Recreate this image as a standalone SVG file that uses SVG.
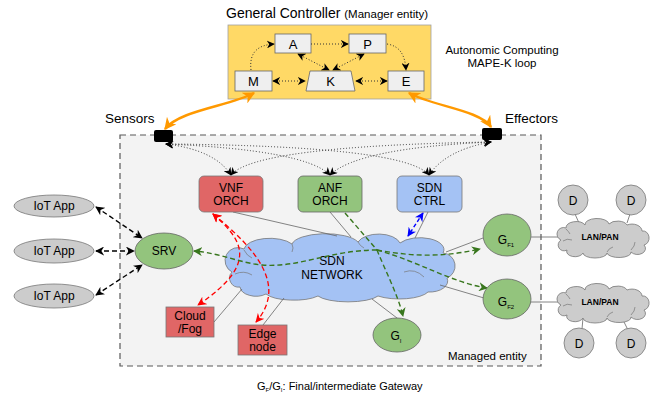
<svg xmlns="http://www.w3.org/2000/svg" width="655" height="399" viewBox="0 0 655 399">
  <style>
    text { font-family: "Liberation Sans", Arial, sans-serif; fill: #000; }
    .lbl { font-size: 12px; text-anchor: middle; }
    .mk { font-size: 13px; text-anchor: middle; }
    .side { font-size: 13.5px; }
    .note { font-size: 11.5px; }
    .gbox { fill: #efefef; stroke: #666; stroke-width: 0.8; }
    .red { fill: #e06666; stroke: #777; stroke-width: 0.8; }
    .grn { fill: #93c47d; stroke: #666; stroke-width: 0.8; }
    .blu { fill: #a4c2f4; stroke: #777; stroke-width: 0.8; }
    .gry { fill: #cccccc; stroke: #777; stroke-width: 0.8; }
    .link { fill: none; stroke: #666; stroke-width: 0.8; }
    .dot { fill: none; stroke: #333; stroke-width: 1; stroke-dasharray: 1 2; marker-start: url(#ak); marker-end: url(#ak); }
    .dotk { fill: none; stroke: #333; stroke-width: 1; stroke-dasharray: 1 2; }
    .org { fill: none; stroke: #ff9900; stroke-width: 2.5; marker-start: url(#ao); marker-end: url(#ao); }
    .blk { fill: none; stroke: #000; stroke-width: 1.4; stroke-dasharray: 5 3; marker-start: url(#ab); marker-end: url(#ab); }
    .rd { fill: none; stroke: #ff0000; stroke-width: 1.3; stroke-dasharray: 5 3; }
    .gd { fill: none; stroke: #38761d; stroke-width: 1.4; stroke-dasharray: 5 3; }
    .bd { fill: none; stroke: #0000ff; stroke-width: 1.4; stroke-dasharray: 4 2.5; marker-start: url(#abl); marker-end: url(#abl); }
  </style>
  <defs>
    <marker id="ak" viewBox="0 0 10 10" refX="9" refY="5" markerUnits="userSpaceOnUse" markerWidth="8" markerHeight="8" orient="auto-start-reverse">
      <path d="M0,0 L10,5 L0,10 L3,5 Z" fill="#000"/>
    </marker>
    <marker id="ab" viewBox="0 0 10 10" refX="9" refY="5" markerUnits="userSpaceOnUse" markerWidth="9" markerHeight="9" orient="auto-start-reverse">
      <path d="M0,0 L10,5 L0,10 L3,5 Z" fill="#000"/>
    </marker>
    <marker id="ao" viewBox="0 0 10 10" refX="9" refY="5" markerUnits="userSpaceOnUse" markerWidth="12" markerHeight="12" orient="auto-start-reverse">
      <path d="M0,0 L10,5 L0,10 L3,5 Z" fill="#ff9900"/>
    </marker>
    <marker id="ar" viewBox="0 0 10 10" refX="9" refY="5" markerUnits="userSpaceOnUse" markerWidth="9" markerHeight="9" orient="auto-start-reverse">
      <path d="M0,0 L10,5 L0,10 L3,5 Z" fill="#ff0000"/>
    </marker>
    <marker id="ag" viewBox="0 0 10 10" refX="9" refY="5" markerUnits="userSpaceOnUse" markerWidth="9" markerHeight="9" orient="auto-start-reverse">
      <path d="M0,0 L10,5 L0,10 L3,5 Z" fill="#38761d"/>
    </marker>
    <marker id="abl" viewBox="0 0 10 10" refX="9" refY="5" markerUnits="userSpaceOnUse" markerWidth="9" markerHeight="9" orient="auto-start-reverse">
      <path d="M0,0 L10,5 L0,10 L3,5 Z" fill="#0000ff"/>
    </marker>
    <!-- small LAN/PAN cloud, local box about 0..90 x 0..35 -->
    <g id="lancloud">
      <path class="gry" d="M4,20 A6,6 0 0 1 9,8 A10,6 0 0 1 28,5 A12,6 0 0 1 52,4 A10,6 0 0 1 70,5 A10,7 0 0 1 85,11 A6,7 0 0 1 87,25 A8,6 0 0 1 74,32 A12,5 0 0 1 50,33 A12,5 0 0 1 26,33 A8,5 0 0 1 10,30 A5,5 0 0 1 4,20 Z"/>
      <path fill="none" stroke="#777" stroke-width="0.7" d="M6,21 Q10,18 15,20 M9,9 Q12,12 13,14 M74,30 Q78,26 78,22 M50,32 Q52,28 56,27"/>
    </g>
  </defs>

  <!-- managed entity frame -->
  <g id="managed-entity">
    <rect x="120" y="135" width="421" height="231" fill="#f3f3f3" stroke="#595959" stroke-width="1.2" stroke-dasharray="6 4"/>
    <text class="note" x="448" y="360">Managed entity</text>
  </g>

  <!-- manager entity with MAPE-K loop -->
  <g id="general-controller">
    <text x="226" y="18" style="font-size:14px">General Controller <tspan style="font-size:11.5px">(Manager entity)</tspan></text>
    <rect x="228" y="25" width="203" height="74" fill="#ffd966" stroke="#a0a0a0" stroke-width="0.8"/>
  </g>
  <g id="mape-a"><rect class="gbox" x="275" y="34" width="36" height="19"/><text class="mk" x="293" y="48.5">A</text></g>
  <g id="mape-p"><rect class="gbox" x="349" y="34" width="37" height="19"/><text class="mk" x="367.5" y="48.5">P</text></g>
  <g id="mape-m"><rect class="gbox" x="235" y="71" width="37" height="20"/><text class="mk" x="253.5" y="86">M</text></g>
  <g id="mape-k"><path class="gbox" d="M310,71 L351,71 L355,91 L306,91 Z"/><text class="mk" x="330.5" y="86">K</text></g>
  <g id="mape-e"><rect class="gbox" x="388" y="71" width="36" height="20"/><text class="mk" x="406" y="86">E</text></g>
  <g id="mape-caption">
    <text class="note" x="502" y="54" text-anchor="middle">Autonomic Computing</text>
    <text class="note" x="502" y="67" text-anchor="middle">MAPE-K loop</text>
  </g>

  <!-- sensors / effectors -->
  <g id="sensors">
    <text class="side" x="105" y="123">Sensors</text>
    <rect x="154" y="130" width="19" height="12" rx="2" fill="#000"/>
  </g>
  <g id="effectors">
    <text class="side" x="505" y="123">Effectors</text>
    <rect x="482" y="128" width="20" height="12" rx="2" fill="#000"/>
  </g>

  <!-- SDN network cloud (drawn under the flow arrows that cross it) -->
  <g id="sdn-network">
    <path class="blu" d="M232,272 A12,12 0 0 1 244,249 A26,12 0 0 1 292,244 A34,12 0 0 1 358,242 A22,12 0 0 1 400,243 A24,12 0 0 1 443,253 A13,13 0 0 1 447,278 A18,11 0 0 1 428,292 A30,10 0 0 1 378,296 A32,9 0 0 1 318,296 A30,10 0 0 1 266,294 A16,10 0 0 1 240,287 A9,9 0 0 1 232,272 Z"/>
    <path fill="none" stroke="#777" stroke-width="0.7" d="M235,274 Q244,270 252,275 M404,272 Q415,268 424,277 M244,250 Q247,256 252,258 M292,244 Q294,248 292,252 M358,242 Q360,246 364,248"/>
    <text class="lbl" x="332" y="265">SDN</text>
    <text class="lbl" x="332" y="279">NETWORK</text>
  </g>

  <!-- connectors -->
  <g id="connectors">
    <!-- MAPE-K loop -->
    <path class="dotk" marker-end="url(#ak)" d="M311,44 L348,44"/>
    <path class="dotk" marker-end="url(#ak)" d="M251,70 C249,52 258,45 274,44"/>
    <path class="dotk" marker-end="url(#ak)" d="M387,44 C400,46 405,55 406,70"/>
    <path class="dot" d="M273,81 L305,81"/>
    <path class="dot" d="M356,81 L387,81"/>
    <path class="dot" d="M298,54 L329,70"/>
    <path class="dot" d="M364,54 L333,70"/>

    <!-- manager to sensors / effectors -->
    <path class="org" d="M254,93 C230,106 180,110 165,129"/>
    <path class="org" d="M409,93 C432,106 480,110 491,127"/>

    <!-- sensors / effectors to control functions -->
    <path class="dot" d="M166,144 Q215,150 231,175"/>
    <path class="dot" d="M166,144 Q305,150 330,175"/>
    <path class="dot" d="M166,144 Q405,146 429,175"/>
    <path class="dot" d="M491,142 Q255,146 231,175"/>
    <path class="dot" d="M491,142 Q358,148 330,175"/>
    <path class="dot" d="M491,142 Q446,150 429,175"/>

    <!-- plain links, each ending at the outline of the node it touches -->
    <path class="link" d="M233,212 L337,236"/>
    <path class="link" d="M330,212 L351,237"/>
    <path class="link" d="M428,212 L415,238"/>
    <path class="link" d="M446,252 L483,238"/>
    <path class="link" d="M440,285 L484,298"/>
    <path class="link" d="M372,299 L397,318"/>
    <path class="link" d="M242,289 L214,322"/>
    <path class="link" d="M284,298 L263,325"/>
    <path class="link" d="M531,237 L558,237"/>
    <path class="link" d="M530,302 L558,302"/>
    <path class="link" d="M575,214 L579,223"/>
    <path class="link" d="M630,214 L627,223"/>
    <path class="link" d="M582,329 L583,318"/>
    <path class="link" d="M628,330 L622,318"/>

    <!-- IoT apps to SRV -->
    <path class="blk" d="M96,207 L142,238"/>
    <path class="blk" d="M96,251 L134,251"/>
    <path class="blk" d="M96,295 L142,265"/>

    <!-- VNF orchestration -->
    <path class="rd" marker-start="url(#ar)" marker-end="url(#ar)" d="M213,214 C240,238 262,262 198,305"/>
    <path class="rd" marker-start="url(#ar)" marker-end="url(#ar)" d="M213,214 C255,248 288,285 256,322"/>

    <!-- ANF orchestration -->
    <path class="gd" d="M345,213 L377,250"/>
    <path class="gd" marker-end="url(#ag)" d="M377,250 C385,270 398,295 403,316"/>
    <path class="gd" marker-end="url(#ag)" d="M377,250 C330,250 300,268 262,265 C240,263 220,253 194,251"/>
    <path class="gd" marker-end="url(#ag)" d="M377,250 C410,256 440,258 480,249"/>
    <path class="gd" marker-end="url(#ag)" d="M377,250 C420,262 450,282 487,288"/>

    <!-- SDN control -->
    <path class="bd" d="M423,213 L408,236"/>
  </g>

  <!-- control functions -->
  <g id="vnf-orch">
    <rect class="red" x="199" y="176" width="64" height="36" rx="5"/>
    <text class="lbl" x="231" y="192">VNF</text>
    <text class="lbl" x="231" y="205">ORCH</text>
  </g>
  <g id="anf-orch">
    <rect class="grn" x="298" y="176" width="64" height="36" rx="5"/>
    <text class="lbl" x="330" y="192">ANF</text>
    <text class="lbl" x="330" y="205">ORCH</text>
  </g>
  <g id="sdn-ctrl">
    <rect class="blu" x="397" y="176" width="65" height="36" rx="5"/>
    <text class="lbl" x="429.5" y="192">SDN</text>
    <text class="lbl" x="429.5" y="205">CTRL</text>
  </g>

  <!-- IoT applications and service -->
  <g id="iot-app-1"><ellipse class="gry" cx="54" cy="206" rx="40" ry="11"/><text class="lbl" x="54" y="210">IoT App</text></g>
  <g id="iot-app-2"><ellipse class="gry" cx="54" cy="251" rx="40" ry="12"/><text class="lbl" x="54" y="255">IoT App</text></g>
  <g id="iot-app-3"><ellipse class="gry" cx="54" cy="296" rx="40" ry="12"/><text class="lbl" x="54" y="300">IoT App</text></g>
  <g id="srv"><ellipse class="grn" cx="164" cy="251" rx="29" ry="18"/><text class="lbl" x="164" y="255">SRV</text></g>

  <!-- compute resources -->
  <g id="cloud-fog">
    <rect class="red" x="166" y="307" width="48" height="30"/>
    <text class="lbl" x="190" y="320">Cloud</text>
    <text class="lbl" x="190" y="333">/Fog</text>
  </g>
  <g id="edge-node">
    <rect class="red" x="238" y="325" width="49" height="30"/>
    <text class="lbl" x="262.5" y="338">Edge</text>
    <text class="lbl" x="262.5" y="351">node</text>
  </g>

  <!-- gateways -->
  <g id="gw-i"><ellipse class="grn" cx="397" cy="335" rx="24" ry="17"/><text class="lbl" x="396" y="340">G<tspan style="font-size:6px" dy="3">I</tspan></text></g>
  <g id="gw-f1"><ellipse class="grn" cx="507" cy="235" rx="24" ry="21"/><text class="lbl" x="506" y="244">G<tspan style="font-size:6px" dy="3">F1</tspan></text></g>
  <g id="gw-f2"><ellipse class="grn" cx="507" cy="299" rx="24" ry="20"/><text class="lbl" x="506" y="306">G<tspan style="font-size:6px" dy="3">F2</tspan></text></g>

  <!-- local networks and devices -->
  <g id="lan-pan-1">
    <use href="#lancloud" x="557" y="220"/>
    <text x="600" y="240" text-anchor="middle" style="font-size:8.5px;font-weight:bold">LAN/PAN</text>
  </g>
  <g id="lan-pan-2">
    <use href="#lancloud" x="557" y="285"/>
    <text x="600" y="305" text-anchor="middle" style="font-size:8.5px;font-weight:bold">LAN/PAN</text>
  </g>
  <g id="d1"><circle class="gry" cx="573" cy="200" r="15"/><text class="lbl" x="573" y="204.5">D</text></g>
  <g id="d2"><circle class="gry" cx="631" cy="200" r="15"/><text class="lbl" x="631" y="204.5">D</text></g>
  <g id="d3"><circle class="gry" cx="579" cy="343" r="15"/><text class="lbl" x="579" y="347.5">D</text></g>
  <g id="d4"><circle class="gry" cx="631" cy="343" r="15"/><text class="lbl" x="631" y="347.5">D</text></g>

  <!-- legend -->
  <g id="legend">
    <text x="257" y="390" style="font-size:11px">G<tspan style="font-size:6px" dy="2">F</tspan><tspan dy="-2">/G</tspan><tspan style="font-size:6px" dy="2">I</tspan><tspan dy="-2">: Final/intermediate Gateway</tspan></text>
  </g>
</svg>
